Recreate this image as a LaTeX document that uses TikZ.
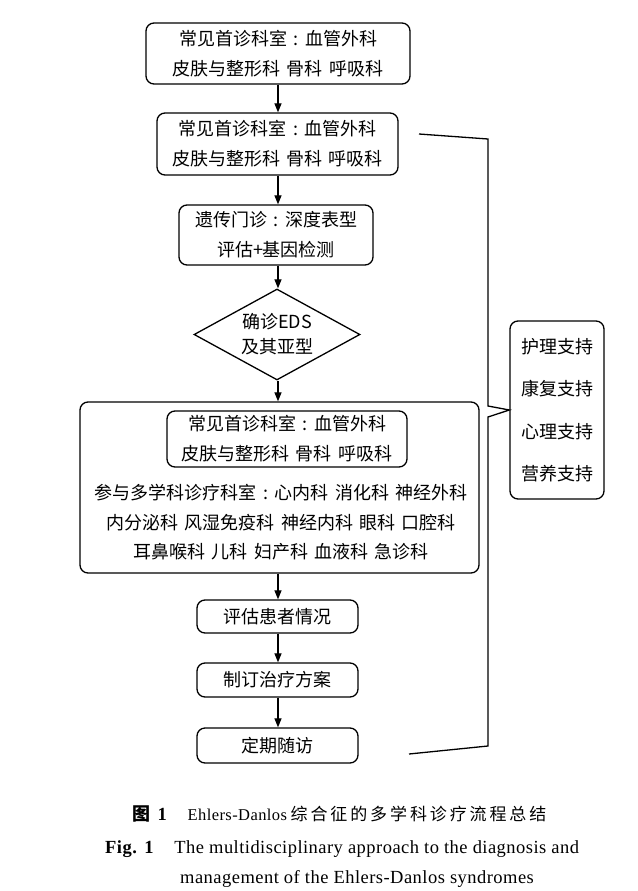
\documentclass[tikz,border=0pt]{standalone}
\usepackage{fontspec}
\setmainfont{Liberation Serif}
\newfontfamily\cjk[WordSpace=1.5]{Noto Sans CJK SC}
\newfontfamily\capfont[LetterSpace=2.5]{Liberation Serif}
\usepackage{tikz}
\usetikzlibrary{positioning, arrows.meta, calc, shapes.geometric}
\newcommand\cc{\makebox[1em]{:}}

\begin{document}
\begin{tikzpicture}[
    x=1pt, y=-1pt,
    box/.style={rectangle, rounded corners=8pt, draw, line width=1.3pt, align=center,
                font=\cjk\fontsize{18}{30}\selectfont, inner sep=0pt},
    arr/.style={-{Triangle[length=9pt,width=7pt]}, line width=1.2pt},
    brk/.style={line width=1.3pt, line join=miter},
    captext/.style={inner sep=0pt, font=\capfont\fontsize{18.5}{18.5}\selectfont}
]
  \useasboundingbox (0,0) rectangle (637,891);

  % main flow
  \node[box, minimum width=264pt, minimum height=61pt] (first1) at (278,53.5)
    {常见首诊科室\cc 血管外科\\皮肤与整形科 骨科 呼吸科};
  \node[box, minimum width=241pt, minimum height=62pt] (first2) at (277.5,144)
    {常见首诊科室\cc 血管外科\\皮肤与整形科 骨科 呼吸科};
  \node[box, minimum width=194pt, minimum height=60pt] (gene) at (276,235)
    {遗传门诊\cc 深度表型\\评估+基因检测};
  \node[diamond, draw, line width=1.3pt, aspect=1.82, inner sep=0pt,
        minimum width=166pt, minimum height=91pt, align=center,
        font=\cjk\fontsize{18}{25}\selectfont] (diag) at (277,334.5)
    {确诊EDS\\及其亚型};

  % multidisciplinary group
  \node[box, minimum width=399pt, minimum height=171pt] (mdt) at (279.5,487.5) {};
  \node[box, minimum width=240pt, minimum height=56pt] (mdtfirst) at (287,439)
    {常见首诊科室\cc 血管外科\\皮肤与整形科 骨科 呼吸科};
  \node[align=center, inner sep=0pt, font=\cjk\fontsize{18}{29.5}\selectfont] (mdtlist) at (281,522.5)
    {参与多学科诊疗科室\cc 心内科 消化科 神经外科\\内分泌科 风湿免疫科 神经内科 眼科 口腔科\\耳鼻喉科 儿科 妇产科 血液科 急诊科};

  \node[box, minimum width=161pt, minimum height=33pt] (assess) at (277.5,616.5) {评估患者情况};
  \node[box, minimum width=161pt, minimum height=34pt] (plan) at (277.5,680) {制订治疗方案};
  \node[box, minimum width=161pt, minimum height=35pt] (follow) at (277.5,745.5) {定期随访};

  % support box
  \node[box, minimum width=94pt, minimum height=178pt, font=\cjk\fontsize{18}{42.5}\selectfont] (support) at (557,410)
    {护理支持\\康复支持\\心理支持\\营养支持};

  \draw[arr] (278,0 |- first1.south) -- (278,0 |- first2.north);
  \draw[arr] (278,0 |- first2.south) -- (278,0 |- gene.north);
  \draw[arr] (278,0 |- gene.south) -- (278,0 |- diag.north);
  \draw[arr] (278,0 |- diag.south) -- (278,0 |- mdt.north);
  \draw[arr] (278,0 |- mdt.south) -- (278,0 |- assess.north);
  \draw[arr] (278,0 |- assess.south) -- (278,0 |- plan.north);
  \draw[arr] (278,0 |- plan.south) -- (278,0 |- follow.north);

  % bracket
  \coordinate (brtop) at (419,134);
  \coordinate (brbot) at (409,754);
  \draw[brk] (brtop) -- (488,139) -- (488,406) -- (support.west) -- (488,417)
    -- (488,746) -- (brbot);

  % caption
  \node[captext, anchor=base west] (capcn) at (132,820)
    {{\cjk\bfseries\fontsize{18}{18}\selectfont 图}\hspace{0.4em}\textbf{1}\hspace{1.1em}{\fontsize{16.5}{16.5}\selectfont Ehlers-Danlos}\hspace{0.2em}{\cjk\fontsize{17}{17}\selectfont\addfontfeature{LetterSpace=17}综合征的多学科诊疗流程总结}};
  \node[captext, anchor=base west] (capen1) at (105,853)
    {\textbf{Fig.\hspace{0.4em}1}\hspace{1.1em}The multidisciplinary approach to the diagnosis and};
  \node[captext, anchor=base west] (capen2) at (180,883)
    {management of the Ehlers-Danlos syndromes};
\end{tikzpicture}
\end{document}
